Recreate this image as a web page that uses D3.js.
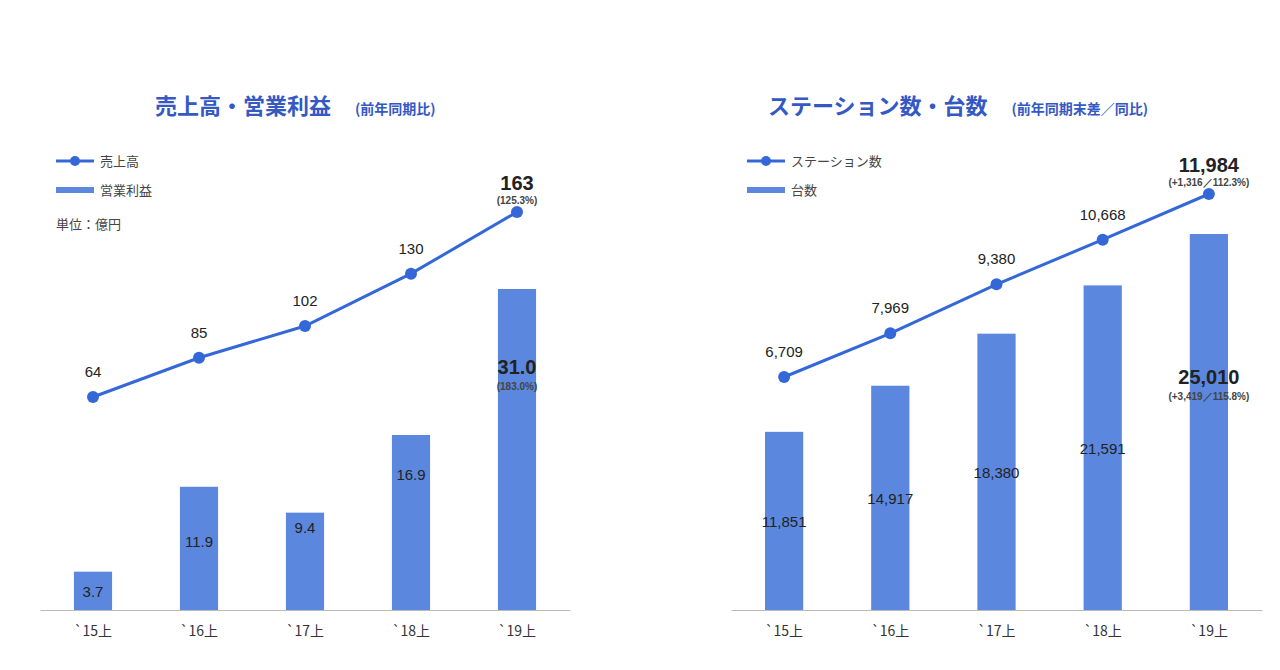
<!DOCTYPE html><html><head><meta charset="utf-8"><script src="https://cdn.jsdelivr.net/npm/d3@7"></script>
<style>body{margin:0;background:#fff;font-family:"Noto Sans CJK JP","Noto Sans",sans-serif}</style></head><body><svg id="c" width="1280" height="670"></svg>
<script>
const categories=["`15上","`16上","`17上","`18上","`19上"];
const sales=[64,85,102,130,163];
const profit=[3.7,11.9,9.4,16.9,31.0];
const stations=[6709,7969,9380,10668,11984];
const units=[11851,14917,18380,21591,25010];
const svg=d3.select("#c");
const barC="#5B87DE", lineC="#3468D8", titleC="#3459C4", NUM="Liberation Sans, Arial, sans-serif";
function chart(o){
  const g=svg.append("g");
  const x=d3.scaleBand().domain(categories).range([o.x0,o.x1]).paddingInner(0.64).paddingOuter(0.32);
  const yb=d3.scaleLinear().domain([0,o.bmax]).range([610,o.btop]);
  const yl=d3.scaleLinear().domain(o.ldom).range(o.lrange);
  g.selectAll("rect").data(o.bars).join("rect").attr("x",(d,i)=>x(categories[i])).attr("width",x.bandwidth())
   .attr("y",d=>yb(d)).attr("height",d=>610-yb(d)).attr("fill",barC);
  const ax=g.append("g").attr("transform","translate(0,610)").call(d3.axisBottom(x).tickSize(0).tickPadding(16));
  ax.select(".domain").attr("stroke","#bbb");
  ax.selectAll("text").attr("font-size",14).attr("fill","#333").attr("font-family","Noto Sans CJK JP");
  const cx=(i)=>x(categories[i])+x.bandwidth()/2;
  g.append("path").datum(o.line).attr("d",d3.line().x((d,i)=>cx(i)).y(d=>yl(d))).attr("fill","none").attr("stroke",lineC).attr("stroke-width",3);
  g.selectAll("circle").data(o.line).join("circle").attr("cx",(d,i)=>cx(i)).attr("cy",d=>yl(d)).attr("r",6).attr("fill",lineC);
  o.line.forEach((d,i)=>{ if(i<4) g.append("text").attr("x",cx(i)).attr("y",yl(d)-20).attr("text-anchor","middle").attr("font-family",NUM).attr("font-size",15).attr("fill","#222").text(o.lfmt(d));});
  o.bars.forEach((d,i)=>{ if(i<4) g.append("text").attr("x",cx(i)).attr("y",o.blabY[i]).attr("text-anchor","middle").attr("font-family",NUM).attr("font-size",15).attr("fill","#222").text(o.bfmt(d));});
  const L=o.line[4], B=o.bars[4];
  g.append("text").attr("x",cx(4)).attr("y",yl(L)-22).attr("text-anchor","middle").attr("font-family",NUM).attr("font-size",20).attr("font-weight","bold").attr("fill","#222").text(o.lfmt(L));
  g.append("text").attr("x",cx(4)).attr("y",yl(L)-8).attr("text-anchor","middle").attr("font-family",NUM).attr("font-size",10).attr("font-weight","bold").attr("fill","#444").text(o.lsub);
  g.append("text").attr("x",cx(4)).attr("y",o.bigY).attr("text-anchor","middle").attr("font-family",NUM).attr("font-size",20).attr("font-weight","bold").attr("fill","#222").text(o.bfmt(B));
  g.append("text").attr("x",cx(4)).attr("y",o.bigY+16).attr("text-anchor","middle").attr("font-family",NUM).attr("font-size",10).attr("font-weight","bold").attr("fill","#444").text(o.bsub);
  const t=g.append("text").attr("x",o.tx).attr("y",114).attr("fill",titleC).attr("font-weight","bold");
  t.append("tspan").attr("font-size",22).text(o.title);
  t.append("tspan").attr("font-size",14).attr("dx",24).text(o.sub);
  const lx=o.x0+16;
  g.append("line").attr("x1",lx).attr("x2",lx+38).attr("y1",161).attr("y2",161).attr("stroke",lineC).attr("stroke-width",3);
  g.append("circle").attr("cx",lx+19).attr("cy",161).attr("r",5).attr("fill",lineC);
  g.append("rect").attr("x",lx).attr("y",187).attr("width",38).attr("height",6).attr("fill",barC);
  g.append("text").attr("x",lx+44).attr("y",166).attr("font-size",13).attr("fill","#444").text(o.leg[0]);
  g.append("text").attr("x",lx+44).attr("y",195).attr("font-size",13).attr("fill","#444").text(o.leg[1]);
  if(o.unit) g.append("text").attr("x",lx).attr("y",229).attr("font-size",13).attr("fill","#444").text(o.unit);
}
chart({x0:40,x1:570,bars:profit,bmax:31,btop:289,line:sales,ldom:[64,163],lrange:[397,212],
  lfmt:d=>d,bfmt:d=>d.toFixed(1),lsub:"(125.3%)",bsub:"(183.0%)",bigY:374,
  blabY:[597,547,533,480],
  tx:155,title:"売上高・営業利益",sub:"(前年同期比)",leg:["売上高","営業利益"],unit:"単位：億円"});
chart({x0:731,x1:1262,bars:units,bmax:25010,btop:234,line:stations,ldom:[6709,11984],lrange:[377,194],
  lfmt:d3.format(","),bfmt:d3.format(","),lsub:"(+1,316／112.3%)",bsub:"(+3,419／115.8%)",bigY:384,
  blabY:[527,504,478,454],
  tx:768,title:"ステーション数・台数",sub:"(前年同期末差／同比)",leg:["ステーション数","台数"]});
</script></body></html>
